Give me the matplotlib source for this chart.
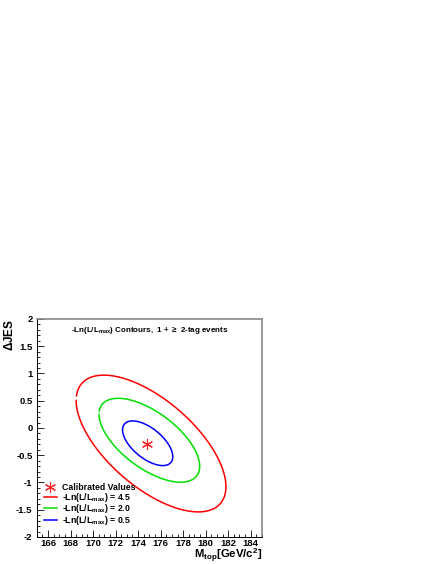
#Likelihood contours for top mass vs jet energy scale

import numpy as np
import matplotlib
matplotlib.use('Agg')
import matplotlib.pyplot as plt
from matplotlib.lines import Line2D
from matplotlib.ticker import MultipleLocator

plt.rcParams['font.family'] = ['Liberation Sans', 'DejaVu Sans']
plt.rcParams['font.weight'] = 'bold'
plt.rcParams['mathtext.fontset'] = 'custom'
plt.rcParams['mathtext.rm'] = 'Liberation Sans:bold'
plt.rcParams['mathtext.bf'] = 'Liberation Sans:bold'
plt.rcParams['mathtext.default'] = 'bf'

############
### DATA ###
############
levels = [4.5, 2.0, 0.5]
colors = ['#ff0000', '#00e000', '#0000ff']
#ellipse centre, half extents and tilt (correlation)
centreM = [175.15, 175.0, 174.85]
centreJES = [-0.285, -0.225, -0.28]
halfM = [6.65, 4.47, 2.23]
halfJES = [1.255, 0.77, 0.41]
corr = [-0.63, -0.62, -0.60]
gaps = [0.09, 0.10, 0.08]

calibM = [174.8]
calibJES = [-0.30]

#############
### PLOTS ###
#############
def contourLine(cx, cy, hx, hy, rho, gap):
  theta = np.arccos(rho)
  t = np.linspace(np.pi, 3*np.pi - gap, 300)
  return cx + hx*np.cos(t), cy + hy*np.cos(t - theta)

fig = plt.figure(figsize=(4.36, 5.64), dpi=100)
ax = fig.add_axes([0.0842, 0.0479, 0.5167, 0.3865])

for i in range(len(levels)):
  X, Y = contourLine(centreM[i], centreJES[i], halfM[i], halfJES[i], corr[i], gaps[i])
  ax.plot(X, Y, color=colors[i], lw=1.1)

ax.plot(calibM, calibJES, linestyle='none', marker=(6, 2, 0), color='#ff2020',
        markersize=8, mew=0.8)

ax.set_xlim(165, 185)
ax.set_ylim(-2, 2)
ax.xaxis.set_minor_locator(MultipleLocator(0.5))
ax.yaxis.set_minor_locator(MultipleLocator(0.1))
ax.set_xticks(np.arange(166, 185, 2))
ax.set_xticklabels([str(v) for v in range(166, 185, 2)])
ax.set_yticks([-2, -1.5, -1, -0.5, 0, 0.5, 1, 1.5, 2])
ax.set_yticklabels(['-2', '-1.5', '-1', '-0.5', '0', '0.5', '1', '1.5', '2'])
ax.tick_params(which='both', direction='in', top=False, right=False, labelsize=6.8, pad=3)
ax.tick_params(axis='x', pad=1.5)
ax.tick_params(which='major', length=5, width=0.6)
ax.tick_params(which='minor', length=2.5, width=0.6)

for s in ['left', 'bottom']:
  ax.spines[s].set_color('black')
  ax.spines[s].set_linewidth(0.7)
for s in ['top', 'right']:
  ax.spines[s].set_color('#888888')
  ax.spines[s].set_linewidth(1.2)

#axis titles placed ROOT style, flush with the frame's far ends
fig.text(0.6014, 0.0085, r'M$_{top}$[GeV/c$^{2}$]', fontsize=8.2, fontweight='bold',
         ha='right', va='baseline')
ax.set_ylabel(r'$\Delta$JES', fontsize=8.5, fontweight='bold', loc='top')
ax.yaxis.set_label_coords(-0.09, 1.0)

ax.text(0.5, 0.95, r'-Ln(L/L$_{max}$) Contours,  1 + $\geq$ 2-tag events',
        transform=ax.transAxes, ha='center', va='center', fontsize=5.8, fontweight='bold')

handles = [Line2D([], [], linestyle='none', marker=(6, 2, 0), color='#ff2020', markersize=8, mew=0.8)]
labels = ['Calibrated Values']
for i in range(len(levels)):
  handles.append(Line2D([], [], color=colors[i], lw=1.1))
  labels.append(r'-Ln(L/L$_{max}$) = %.1f' % levels[i])
ax.legend(handles, labels, loc='lower left', bbox_to_anchor=(0.033, 0.045), frameon=False,
          handlelength=1.45, handletextpad=0.55, labelspacing=-0.15,
          borderaxespad=0.0, borderpad=0.0, prop={'weight': 'bold', 'size': 6.3})

fig.savefig('out.png', dpi=100)
